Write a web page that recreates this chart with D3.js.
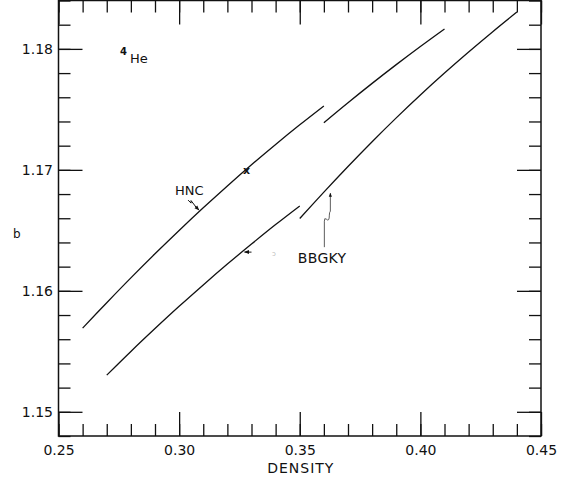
<!DOCTYPE html>
<html>
<head>
<meta charset="utf-8">
<script src="https://cdn.jsdelivr.net/npm/d3@7"></script>
<style>
  html, body { margin: 0; padding: 0; background: #fff; }
</style>
</head>
<body>
<div id="chart"></div>
<script>
// data (density vs b, 4He)
const hncDensityA = [0.26, 0.27, 0.28, 0.29, 0.30, 0.31, 0.32, 0.33, 0.34, 0.35, 0.36];
const hncBA       = [1.15692, 1.15902, 1.16107, 1.16306, 1.16499, 1.16686, 1.16867, 1.17042, 1.17210, 1.17372, 1.17528];
const hncDensityB = [0.36, 0.37, 0.38, 0.39, 0.40, 0.41];
const hncBB       = [1.17390, 1.17555, 1.17715, 1.17870, 1.18020, 1.18165];
const bbgkyDensityA = [0.27, 0.28, 0.29, 0.30, 0.31, 0.32, 0.33, 0.34, 0.35];
const bbgkyBA       = [1.15303, 1.15499, 1.15688, 1.15872, 1.16049, 1.16221, 1.16387, 1.16548, 1.16702];
const bbgkyDensityB = [0.35, 0.36, 0.37, 0.38, 0.39, 0.40, 0.41, 0.42, 0.43, 0.44];
const bbgkyBB       = [1.16598, 1.16816, 1.17028, 1.17233, 1.17430, 1.17619, 1.17800, 1.17974, 1.18142, 1.18304];

const xMajorTicks = [0.25, 0.30, 0.35, 0.40, 0.45];
const xMinorTicks = d3.range(0, 21).map(i => +(0.25 + i * 0.01).toFixed(2));
const yMajorTicks = [1.15, 1.16, 1.17, 1.18];
const yMinorTicks = d3.range(0, 19).map(i => +(1.148 + i * 0.002).toFixed(3));

const width = 571, height = 483;
const font = "'DejaVu Sans', sans-serif";

const svg = d3.select("#chart").append("svg")
    .attr("width", width).attr("height", height)
    .style("background", "white")
    .style("font-family", font);

const x = d3.scaleLinear().domain([0.25, 0.45]).range([58.5, 541]);
const y = d3.scaleLinear().domain([1.148, 1.184]).range([436, 0.5]);

const fmt = d3.format(".2f");

// frame
svg.append("rect")
    .attr("x", x(0.25)).attr("y", y(1.184))
    .attr("width", x(0.45) - x(0.25)).attr("height", y(1.148) - y(1.184))
    .attr("fill", "none").attr("stroke", "#111").attr("stroke-width", 1.5);

// inward ticks on all 4 sides: minor (short) + major (long)
const addAxis = (axisFn, scale, transform, values, size, labels) => {
    const g = svg.append("g")
        .attr("transform", transform)
        .call(axisFn(scale).tickValues(values).tickSize(size)
            .tickPadding(labels ? (axisFn === d3.axisBottom ? 9 : 5.5) : 0)
            .tickFormat(labels ? fmt : ""));
    g.select(".domain").remove();
    g.selectAll(".tick line").attr("stroke", "#111").attr("stroke-width", 1.3);
    g.selectAll(".tick text")
        .style("font-family", font).style("font-size", "14px").attr("fill", "#111");
    return g;
};

addAxis(d3.axisBottom, x, `translate(0,${y(1.148)})`, xMinorTicks, -12, false);
addAxis(d3.axisBottom, x, `translate(0,${y(1.148)})`, xMajorTicks, -24, true);
addAxis(d3.axisTop, x, `translate(0,${y(1.184)})`, xMinorTicks, -12, false);
addAxis(d3.axisTop, x, `translate(0,${y(1.184)})`, xMajorTicks, -24, false);
addAxis(d3.axisLeft, y, `translate(${x(0.25)},0)`, yMinorTicks, -12, false);
addAxis(d3.axisLeft, y, `translate(${x(0.25)},0)`, yMajorTicks, -24, true);
addAxis(d3.axisRight, y, `translate(${x(0.45)},0)`, yMinorTicks, -12, false);
addAxis(d3.axisRight, y, `translate(${x(0.45)},0)`, yMajorTicks, -24, false);

// axis titles
svg.append("text")
    .attr("x", (x(0.25) + x(0.45)) / 2 + 1).attr("y", 473)
    .attr("text-anchor", "middle")
    .style("font-size", "14px").style("letter-spacing", "1px").attr("fill", "#111")
    .text("DENSITY");

svg.append("text")
    .attr("x", 13).attr("y", 237.5)
    .style("font-size", "12px").attr("fill", "#111")
    .text("b");

// curves
const line = d3.line()
    .x(d => x(d[0])).y(d => y(d[1]))
    .curve(d3.curveCatmullRom.alpha(0.5));

const series = [
    [hncDensityA, hncBA],
    [hncDensityB, hncBB],
    [bbgkyDensityA, bbgkyBA],
    [bbgkyDensityB, bbgkyBB]
];

svg.selectAll(".curve")
    .data(series)
    .join("path")
    .attr("class", "curve")
    .attr("d", s => line(s[0].map((d, i) => [d, s[1][i]])))
    .attr("fill", "none")
    .attr("stroke", "#111")
    .attr("stroke-width", 1.3);

// labels
const he = svg.append("text")
    .attr("x", x(0.2755)).attr("y", y(1.17882))
    .attr("fill", "#111");
he.append("tspan").style("font-size", "10px").style("font-weight", "bold")
    .attr("dy", "-8").text("4");
he.append("tspan").style("font-size", "13px").attr("dx", "3").attr("dy", "8").text("He");

svg.append("text")
    .attr("x", x(0.2983)).attr("y", y(1.1679))
    .style("font-size", "13px").attr("fill", "#111")
    .text("HNC");

svg.append("text")
    .attr("x", x(0.3280)).attr("y", y(1.16997))
    .attr("text-anchor", "middle").attr("dy", "0.3em")
    .style("font-size", "11px").style("font-weight", "bold").attr("fill", "#111")
    .text("x");

svg.append("text")
    .attr("x", x(0.3492)).attr("y", y(1.16229))
    .style("font-size", "14px").style("letter-spacing", "0.3px").attr("fill", "#111")
    .text("BBGKY");

// hand-drawn pointer arrows
const defs = svg.append("defs");
defs.append("marker")
    .attr("id", "head")
    .attr("viewBox", "0 0 10 10").attr("refX", 9).attr("refY", 5)
    .attr("markerWidth", 5).attr("markerHeight", 5)
    .attr("orient", "auto-start-reverse")
    .append("path").attr("d", "M0,1 L10,5 L0,9 Z").attr("fill", "#111");

// HNC squiggle
const hx = x(0.3037), hy = y(1.1675);
svg.append("path")
    .attr("d", `M${hx},${hy} l3,3 l0,-2.5 l5,6.5 l-1,-1 l4,4`)
    .attr("fill", "none").attr("stroke", "#111").attr("stroke-width", 1)
    .attr("marker-end", "url(#head)");

// BBGKY squiggle (points up to lower curve)
const bx = x(0.3602), by = y(1.16361);
svg.append("path")
    .attr("d", `M${bx},${by} L${bx},${by - 26} q0,-4 2,-2 q3,3 3,-4 q0,-3 1,-4 L${bx + 6},${by - 54}`)
    .attr("fill", "none").attr("stroke", "#333").attr("stroke-width", 0.8)
    .attr("marker-end", "url(#head)");

// small stray arrow below the lower curve
const sx = x(0.3300), sy = y(1.1632);
svg.append("path")
    .attr("d", `M${sx},${sy} l-7,0`)
    .attr("fill", "none").attr("stroke", "#111").attr("stroke-width", 1)
    .attr("marker-end", "url(#head)");

svg.append("text")
    .attr("x", x(0.3385)).attr("y", y(1.1629))
    .style("font-size", "7px").attr("fill", "#bbb")
    .text("\u0254");
</script>
</body>
</html>
